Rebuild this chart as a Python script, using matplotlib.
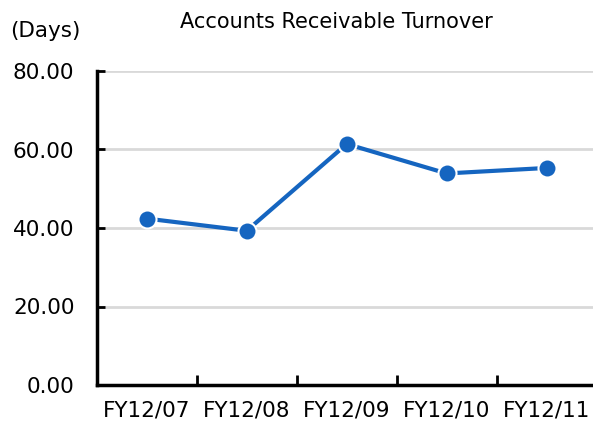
import matplotlib
matplotlib.use("Agg")
import matplotlib.pyplot as plt

categories = ["FY12/07", "FY12/08", "FY12/09", "FY12/10", "FY12/11"]
values = [42.4, 39.3, 61.4, 53.9, 55.3]
yticks = [0, 20, 40, 60, 80]

plt.rcParams['font.family'] = ['DejaVu Sans']
W, H = 593, 423
fig = plt.figure(figsize=(W/100, H/100), dpi=100)
ax = fig.add_axes([96.7/W, 38/H, 500/W, 314/H])

ax.plot(range(len(values)), values, color='#1565C0', lw=3, marker='o',
        markersize=13, markerfacecolor='#1565C0', markeredgecolor='white',
        markeredgewidth=1.5, zorder=3, clip_on=False)

ax.set_xlim(-0.5, len(categories) - 0.5)
ax.set_ylim(0, 80)
ax.set_yticks(yticks)
ax.set_yticklabels([f"{v:.2f}" for v in yticks], fontsize=15.5)
ax.set_xticks(range(len(categories)))
ax.set_xticklabels(categories, fontsize=15.5)
ax.set_xticks([i + 0.5 for i in range(len(categories) - 1)], minor=True)
ax.tick_params(axis='x', which='major', length=0, pad=11)
ax.tick_params(axis='x', which='minor', direction='in', length=7, width=2)
ax.tick_params(axis='y', direction='in', length=6, width=2, pad=16)

ax.yaxis.grid(True, color='#d9d9d9', lw=2)
ax.set_axisbelow(True)
for s in ['top', 'right']:
    ax.spines[s].set_visible(False)
for s in ['left', 'bottom']:
    ax.spines[s].set_linewidth(2.5)

fig.text(336/W, 1 - 22/H, "Accounts Receivable Turnover", ha='center', va='center', fontsize=15)
fig.text(45/W, 1 - 31/H, "(Days)", ha='center', va='center', fontsize=15.5)

fig.savefig("out.png", dpi=100)
